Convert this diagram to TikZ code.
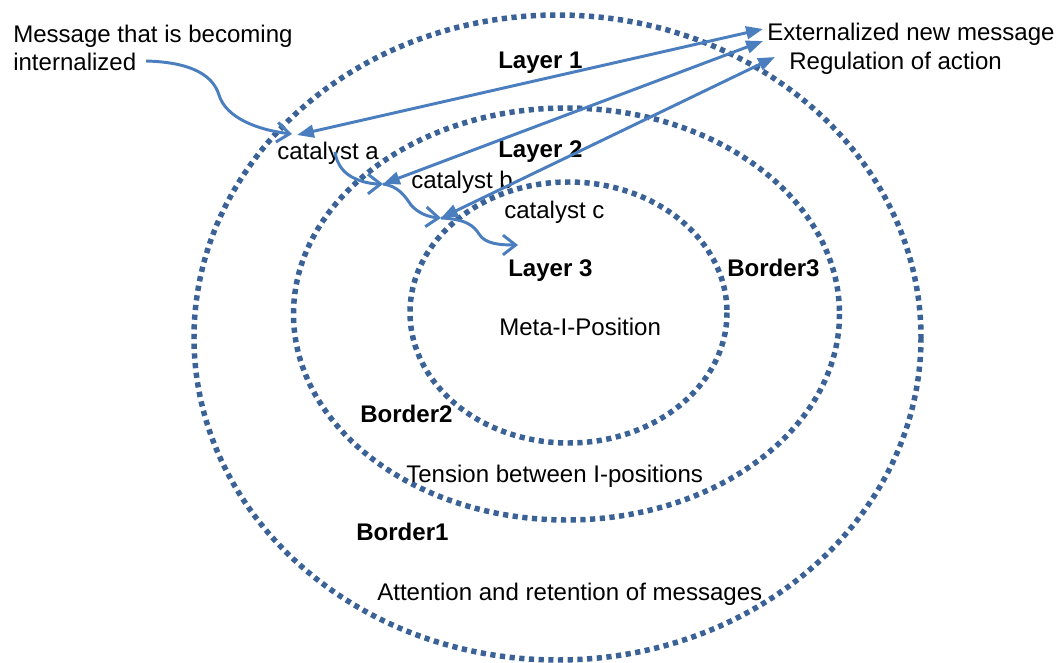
\documentclass[tikz,border=0pt]{standalone}
\usepackage{fontspec}
\setmainfont{Liberation Sans}
\usetikzlibrary{arrows.meta}
\definecolor{ringblue}{RGB}{58,98,150}
\definecolor{flowblue}{RGB}{74,126,190}
\begin{document}
\begin{tikzpicture}[x=0.025cm,y=-0.025cm,
  ring/.style={draw=ringblue, line width=3.9pt, dash pattern=on 3.7pt off 3.2pt},
  txt/.style={anchor=base west, inner sep=0pt, font=\fontsize{17.1}{20}\selectfont},
  hd/.style={txt, font=\fontsize{17.1}{20}\selectfont\bfseries},
  flowline/.style={draw=flowblue, line width=2.1pt,
    {Triangle[length=12pt,width=9pt]}-{Triangle[length=12pt,width=9pt]}},
  wavy/.style={draw=flowblue, line width=2.1pt,
    -{Straight Barb[length=9pt,width=14pt]}},
]
\useasboundingbox[fill=white] (0,0) rectangle (1060,663);

% three nested borders
\draw[ring] (557.5,337.5) ellipse [x radius=363.5, y radius=322.5];
\draw[ring] (566.5,314) ellipse [x radius=273, y radius=206];
\draw[ring] (568.5,312.5) ellipse [x radius=158.5, y radius=130.5];

% texts
\node[txt, align=left] (msg) at (13,71) {Message that is becoming\\internalized};
\node[txt] (ext) at (767,41) {Externalized new message};
\node[txt] (reg) at (789,70) {Regulation of action};
\node[hd] (lay1) at (498,69) {Layer 1};
\node[hd] (lay2) at (498,158) {Layer 2};
\node[hd] (lay3) at (508,276) {Layer 3};
\node[hd] (bor3) at (727,276) {Border3};
\node[hd] (bor2) at (360,422) {Border2};
\node[hd] (bor1) at (356,540) {Border1};
\node[txt] (cata) at (277,160) {catalyst a};
\node[txt] (catb) at (411,189) {catalyst b};
\node[txt] (catc) at (504,219) {catalyst c};
\node[txt] (meta) at (499,335) {Meta-I-Position};
\node[txt] (tens) at (406,482) {Tension between I-positions};
\node[txt] (attn) at (377,600) {Attention and retention of messages};

% anchor points of the flows
\coordinate (in0) at (146,61);
\coordinate (ina) at (292,134);
\coordinate (ca) at (297,135);
\coordinate (aout) at (335,152);
\coordinate (cb) at (383,184);
\coordinate (cc) at (441,218);
\coordinate (l3) at (518,245);
\coordinate (e1) at (763,29);
\coordinate (e2) at (763,41);
\coordinate (e3) at (775,57);

% incoming message
\draw[wavy] (in0) .. controls (185,62) and (212,72) .. (219,95)
  .. controls (226,118) and (258,130) .. (ina);

% layer exchanges
\draw[flowline] (ca) -- (e1);
\draw[flowline] (cb) -- (e2);
\draw[flowline] (cc) -- (e3);

% passage between catalysts
\draw[wavy] (aout) .. controls (337,165) and (344,174) .. (356,179)
  .. controls (365,183) and (374,184) .. (cb);
\draw[wavy] (cb) .. controls (398,186) and (405,196) .. (411,205)
  .. controls (418,213) and (428,217) .. (cc);
\draw[wavy] (cc) .. controls (466,219) and (474,226) .. (479,234)
  .. controls (485,244) and (500,245) .. (l3);
\end{tikzpicture}
\end{document}
